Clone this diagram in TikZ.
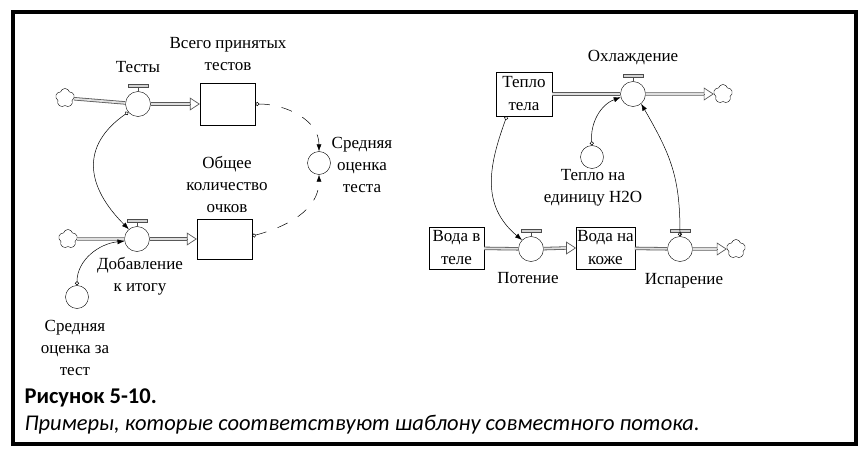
\documentclass[tikz,border=0pt]{standalone}
\usepackage{fontspec}
\setmainfont{Liberation Serif}
\newfontfamily\capfont{Carlito}
\usetikzlibrary{positioning, shapes.symbols, arrows.meta, calc}

\begin{document}
\begin{tikzpicture}[x=1pt, y=1pt,
    stock/.style={draw, minimum width=55pt, minimum height=42pt, inner sep=1pt, align=center, font=\fontsize{17}{23}\selectfont},
    valve/.style={draw, circle, minimum size=25pt, inner sep=0pt, fill=white},
    aux/.style={draw, circle, minimum size=23pt, inner sep=0pt},
    sink/.style={draw, cloud, cloud puffs=5, aspect=1, minimum width=19pt, minimum height=19pt, inner sep=0pt},
    lbl/.style={align=center, font=\fontsize{17}{22}\selectfont},
    pipe/.style={draw=gray!70!black, double=gray!25, double distance=1.8pt, line width=0.8pt},
    pipehead/.style={-{Triangle[open, length=10pt, width=13pt]}, gray!70!black, line width=0.7pt},
    link/.style={{Circle[open, length=4pt]}-{Latex[length=7pt, width=5pt]}, line width=0.5pt},
    dlink/.style={{Circle[open, length=4pt]}-{Latex[length=7pt, width=5pt]}, dash pattern=on 11pt off 12pt, line width=0.5pt}
  ]
  \useasboundingbox (0,0) rectangle (868,459);
  \draw[line width=4pt] (13,15) rectangle (856,447);

  % Left: tests and scores
  \node[sink] (cloudA) at (65,361) {};
  \node[valve] (valveT) at (138,355) {};
  \node[stock] (stockT) at (227.5,355) {};
  \node[sink] (cloudB) at (68,220) {};
  \node[valve] (valveD) at (137,220) {};
  \node[stock, minimum height=40pt] (stockO) at (224.5,220) {};
  \node[aux] (auxS) at (319,296) {};
  \node[aux] (auxA) at (77,162) {};

  \node[lbl] (lT) at (138,392) {Тесты};
  \node[lbl] (lstockT) at (228,405) {Всего принятых\\тестов};
  \node[lbl] (lauxS) at (362,294) {Средняя\\оценка\\теста};
  \node[lbl] (lstockO) at (227,275) {Общее\\количество\\очков};
  \node[lbl] (lD) at (140,183) {Добавление\\к итогу};
  \node[lbl] (lauxA) at (75,111) {Средняя\\оценка за\\тест};

  % Right: body heat
  \node[stock, minimum width=56pt, minimum height=44pt] (stockH) at (524,365) {Тепло\\тела};
  \node[valve] (valveC) at (633,365) {};
  \node[sink] (cloudC) at (723,365) {};
  \node[aux] (auxW) at (592,302) {};
  \node[stock] (stockB) at (456.5,211) {Вода в\\теле};
  \node[valve] (valveP) at (531,210) {};
  \node[stock] (stockK) at (605.5,211) {Вода на\\коже};
  \node[valve] (valveE) at (680,210) {};
  \node[sink] (cloudE) at (736,210) {};

  \node[lbl] (lC) at (633,401) {Охлаждение};
  \node[lbl] (lauxW) at (593,271) {Тепло на\\единицу H2O};
  \node[lbl] (lP) at (528,181) {Потение};
  \node[lbl] (lE) at (684,178) {Испарение};

  % pipes
  \draw[pipe] (cloudA) -- (valveT);
  \draw[pipe] (valveT) -- ([xshift=-10pt]stockT.west);
  \draw[pipehead] ([xshift=-10pt]stockT.west) -- (stockT.west);
  \draw[pipe] (cloudB) -- (valveD);
  \draw[pipe] (valveD) -- ([xshift=-10pt]stockO.west);
  \draw[pipehead] ([xshift=-10pt]stockO.west) -- (stockO.west);
  \draw[pipe] (stockH) -- (valveC);
  \draw[pipe] (valveC) -- ([xshift=-10pt]cloudC.west);
  \draw[pipehead] ([xshift=-10pt]cloudC.west) -- (cloudC.west);
  \draw[pipe] (stockB) -- (valveP);
  \draw[pipe] (valveP) -- ([xshift=-10pt]stockK.west);
  \draw[pipehead] ([xshift=-10pt]stockK.west) -- (stockK.west);
  \draw[pipe] (stockK) -- (valveE);
  \draw[pipe] (valveE) -- ([xshift=-10pt]cloudE.west);
  \draw[pipehead] ([xshift=-10pt]cloudE.west) -- (cloudE.west);

  % valve handles
  \foreach \v in {valveT, valveD, valveC, valveP, valveE} {
    \draw[gray!60!black] (\v.north) -- ++(0,4);
    \draw[gray!60!black, fill=gray!35] ([shift={(-10,4)}]\v.north) rectangle ([shift={(10,7)}]\v.north);
  }

  % links
  \draw[link] (valveT.220) to[out=215, in=135, looseness=1.3] (valveD.130);
  \draw[link] (auxA.north) to[out=90, in=185] (valveD.190);
  \draw[dlink] (stockT.east) to[out=0, in=90] (auxS.north);
  \draw[dlink] ([yshift=3pt]stockO.east) to[out=15, in=-90] (auxS.south);
  \draw[link] ([xshift=11pt]stockH.south west) to[out=250, in=140, looseness=1.1] (valveP.135);
  \draw[link] (auxW.north) to[out=95, in=200] (valveC.195);
  \draw[link] (valveE.north) to[out=90, in=-60, looseness=1.1] (valveC.-50);

  % caption
  \node[anchor=west, font=\capfont\bfseries\fontsize{22.5}{26}\selectfont] (capA) at (21,61) {Рисунок 5-10.};
  \node[anchor=west, font=\capfont\itshape\fontsize{22.5}{26}\selectfont] (capB) at (21,34) {Примеры, которые соответствуют шаблону совместного потока.};
\end{tikzpicture}
\end{document}
